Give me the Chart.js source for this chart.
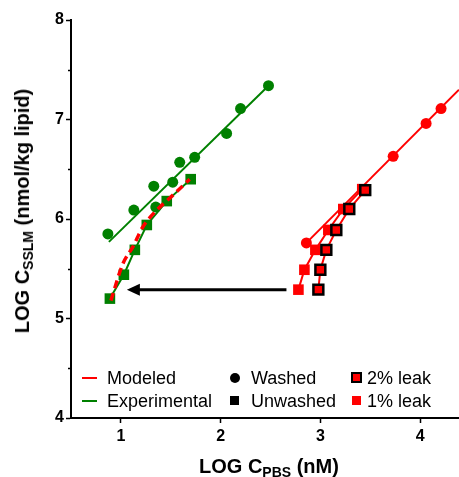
<!DOCTYPE html>
<html>
<head>
<meta charset="utf-8">
<script src="https://cdn.jsdelivr.net/npm/chart.js@4/dist/chart.umd.min.js"></script>
<style>
  body { margin: 0; background: #fff; }
  #wrap { position: relative; width: 459px; height: 477px; font-family: "Liberation Sans", Arial, sans-serif; color: #000; }
  #chart { position: absolute; left: 0; top: 0; }
  .title { position: absolute; font-weight: bold; font-size: 20px; line-height: 24px; white-space: nowrap; }
  .title sub { font-size: 14px; vertical-align: -4px; line-height: 0; }
  #ytitle { left: 22px; top: 211px; transform: translate(-50%, -50%) rotate(-90deg); }
  #xtitle { left: 199px; top: 454px; }
  .lg { position: absolute; font-size: 18px; line-height: 20px; white-space: nowrap; }
  .mk { position: absolute; box-sizing: border-box; }
</style>
</head>
<body>
<div id="wrap">
  <canvas id="chart" width="459" height="477"></canvas>
  <div class="title" id="ytitle">LOG C<sub>SSLM</sub> (nmol/kg lipid)</div>
  <div class="title" id="xtitle">LOG C<sub>PBS</sub> (nM)</div>

  <div class="mk" style="left:82px;top:377px;width:15px;height:2px;background:#ff0000"></div>
  <div class="lg" style="left:107px;top:368px">Modeled</div>
  <div class="mk" style="left:82px;top:400px;width:15px;height:2px;background:#008000"></div>
  <div class="lg" style="left:107px;top:391px">Experimental</div>

  <div class="mk" style="left:230px;top:373px;width:10px;height:10px;border-radius:50%;background:#000"></div>
  <div class="lg" style="left:251px;top:368px">Washed</div>
  <div class="mk" style="left:230px;top:396px;width:9px;height:9px;background:#000"></div>
  <div class="lg" style="left:251px;top:391px">Unwashed</div>

  <div class="mk" style="left:351px;top:372px;width:11px;height:11px;background:#ff0000;border:2px solid #000"></div>
  <div class="lg" style="left:367px;top:368px">2% leak</div>
  <div class="mk" style="left:352px;top:396px;width:9px;height:9px;background:#ff0000"></div>
  <div class="lg" style="left:367px;top:391px">1% leak</div>
</div>
<script>
// experimental, washed (green circles) and its fit line
const grnWashedX = [0.87, 1.13, 1.33, 1.35, 1.52, 1.59, 1.74, 2.06, 2.20, 2.48];
const grnWashedY = [5.85, 6.09, 6.33, 6.12, 6.37, 6.57, 6.62, 6.86, 7.11, 7.34];
const grnFitX = [0.88, 2.48];
const grnFitY = [5.77, 7.34];

// experimental, unwashed (green squares)
const grnUnwashedX = [0.89, 1.03, 1.14, 1.26, 1.46, 1.70];
const grnUnwashedY = [5.20, 5.44, 5.69, 5.94, 6.18, 6.40];

// modeled, unwashed (red dashed)
const modUnwashedX = [0.90, 1.02, 1.12, 1.22, 1.36, 1.49, 1.69];
const modUnwashedY = [5.18, 5.55, 5.72, 5.92, 6.09, 6.21, 6.40];

// modeled, washed (red circles + line)
const modWashedX = [2.86, 3.73, 4.06, 4.21];
const modWashedY = [5.76, 6.63, 6.96, 7.11];
const modLineX = [2.86, 4.39];
const modLineY = [5.76, 7.30];

// modeled with leak
const leak1X = [2.78, 2.84, 2.95, 3.08, 3.23, 3.42];
const leak1Y = [5.29, 5.49, 5.69, 5.89, 6.10, 6.30];
const leak2X = [2.98, 3.00, 3.06, 3.16, 3.29, 3.45];
const leak2Y = [5.29, 5.49, 5.69, 5.89, 6.10, 6.29];

// arrow from right group to left group
const arrowX = [2.66, 1.06];
const arrowY = [5.29, 5.29];

const xTicks = [1, 2, 3, 4];
const yTicks = [4, 4.5, 5, 5.5, 6, 6.5, 7, 7.5, 8];

const RED = '#ff0000';
const GREEN = '#008000';

function pts(xs, ys) {
  return xs.map((x, i) => ({ x: x, y: ys[i] }));
}

const extras = {
  id: 'extras',
  afterDatasetsDraw(chart) {
    const ctx = chart.ctx;
    const xs = chart.scales.x, ys = chart.scales.y;
    // minor ticks on y
    ctx.save();
    ctx.strokeStyle = '#000';
    ctx.lineWidth = 1.5;
    yTicks.forEach(v => {
      if (v % 1 === 0) return;
      const py = Math.round(ys.getPixelForValue(v)) + 0.5;
      ctx.beginPath();
      ctx.moveTo(chart.chartArea.left, py);
      ctx.lineTo(chart.chartArea.left - 3, py);
      ctx.stroke();
    });
    // arrow
    const x0 = xs.getPixelForValue(arrowX[0]), x1 = xs.getPixelForValue(arrowX[1]);
    const y0 = ys.getPixelForValue(arrowY[0]), y1 = ys.getPixelForValue(arrowY[1]);
    ctx.lineWidth = 3;
    ctx.beginPath();
    ctx.moveTo(x0, y0);
    ctx.lineTo(x1 + 10, y1);
    ctx.stroke();
    ctx.fillStyle = '#000';
    ctx.beginPath();
    ctx.moveTo(x1, y1);
    ctx.lineTo(x1 + 13, y1 - 6);
    ctx.lineTo(x1 + 13, y1 + 6);
    ctx.closePath();
    ctx.fill();
    ctx.restore();
  }
};

new Chart(document.getElementById('chart'), {
  type: 'scatter',
  data: {
    datasets: [
      {
        label: '2% leak',
        data: pts(leak2X, leak2Y),
        showLine: true,
        borderColor: RED,
        borderWidth: 2,
        pointStyle: 'rect',
        pointRadius: 7,
        pointBackgroundColor: RED,
        pointBorderColor: '#000',
        pointBorderWidth: 2.5
      },
      {
        label: '1% leak',
        data: pts(leak1X, leak1Y),
        showLine: true,
        borderColor: RED,
        borderWidth: 2,
        pointStyle: 'rect',
        pointRadius: 7.5,
        pointBackgroundColor: RED,
        pointBorderWidth: 0
      },
      {
        label: 'Modeled washed',
        data: pts(modWashedX, modWashedY),
        borderColor: RED,
        backgroundColor: RED,
        pointRadius: 5.5,
        pointBorderWidth: 0
      },
      {
        label: 'Modeled washed line',
        data: pts(modLineX, modLineY),
        showLine: true,
        borderColor: RED,
        borderWidth: 2,
        pointRadius: 0
      },
      {
        label: 'Modeled unwashed',
        data: pts(modUnwashedX, modUnwashedY),
        showLine: true,
        borderColor: RED,
        borderWidth: 3.5,
        borderDash: [8, 5],
        cubicInterpolationMode: 'monotone',
        pointRadius: 0
      },
      {
        label: 'Experimental unwashed',
        data: pts(grnUnwashedX, grnUnwashedY),
        showLine: true,
        borderColor: GREEN,
        borderWidth: 2,
        pointStyle: 'rect',
        pointRadius: 7.5,
        pointBackgroundColor: GREEN,
        pointBorderWidth: 0
      },
      {
        label: 'Experimental washed',
        data: pts(grnWashedX, grnWashedY),
        borderColor: GREEN,
        backgroundColor: GREEN,
        pointRadius: 5.5,
        pointBorderWidth: 0
      },
      {
        label: 'Experimental washed fit',
        data: pts(grnFitX, grnFitY),
        showLine: true,
        borderColor: GREEN,
        borderWidth: 2,
        pointRadius: 0
      }
    ]
  },
  options: {
    responsive: false,
    animation: false,
    devicePixelRatio: 1,
    layout: { autoPadding: false, padding: { top: 20, right: 0, bottom: 0, left: 0 } },
    plugins: {
      legend: { display: false },
      tooltip: { enabled: false }
    },
    scales: {
      x: {
        type: 'linear',
        min: 0.5,
        max: 4.39,
        afterFit: s => { s.height = 59; },
        afterBuildTicks: s => { s.ticks = xTicks.map(v => ({ value: v })); },
        border: { display: true, color: '#000', width: 2 },
        grid: { display: true, drawOnChartArea: false, drawTicks: true, tickLength: 5, tickColor: '#000', tickWidth: 1.5 },
        ticks: {
          color: '#000',
          padding: 4,
          font: { family: '"Liberation Sans", Arial', size: 16, weight: 'bold' },
          callback: v => String(v)
        }
      },
      y: {
        type: 'linear',
        min: 4,
        max: 8,
        afterFit: s => { s.width = 71; },
        afterBuildTicks: s => { s.ticks = yTicks.map(v => ({ value: v })); },
        border: { display: true, color: '#000', width: 2 },
        grid: {
          display: true,
          drawOnChartArea: false,
          drawTicks: true,
          tickLength: 5,
          tickWidth: 1.5,
          tickColor: c => (c.tick && c.tick.value % 1 !== 0) ? 'rgba(0,0,0,0)' : '#000'
        },
        ticks: {
          color: '#000',
          padding: 2,
          font: { family: '"Liberation Sans", Arial', size: 16, weight: 'bold' },
          callback: v => (v % 1 === 0 ? String(v) : '')
        }
      }
    }
  },
  plugins: [extras]
});
</script>
</body>
</html>
